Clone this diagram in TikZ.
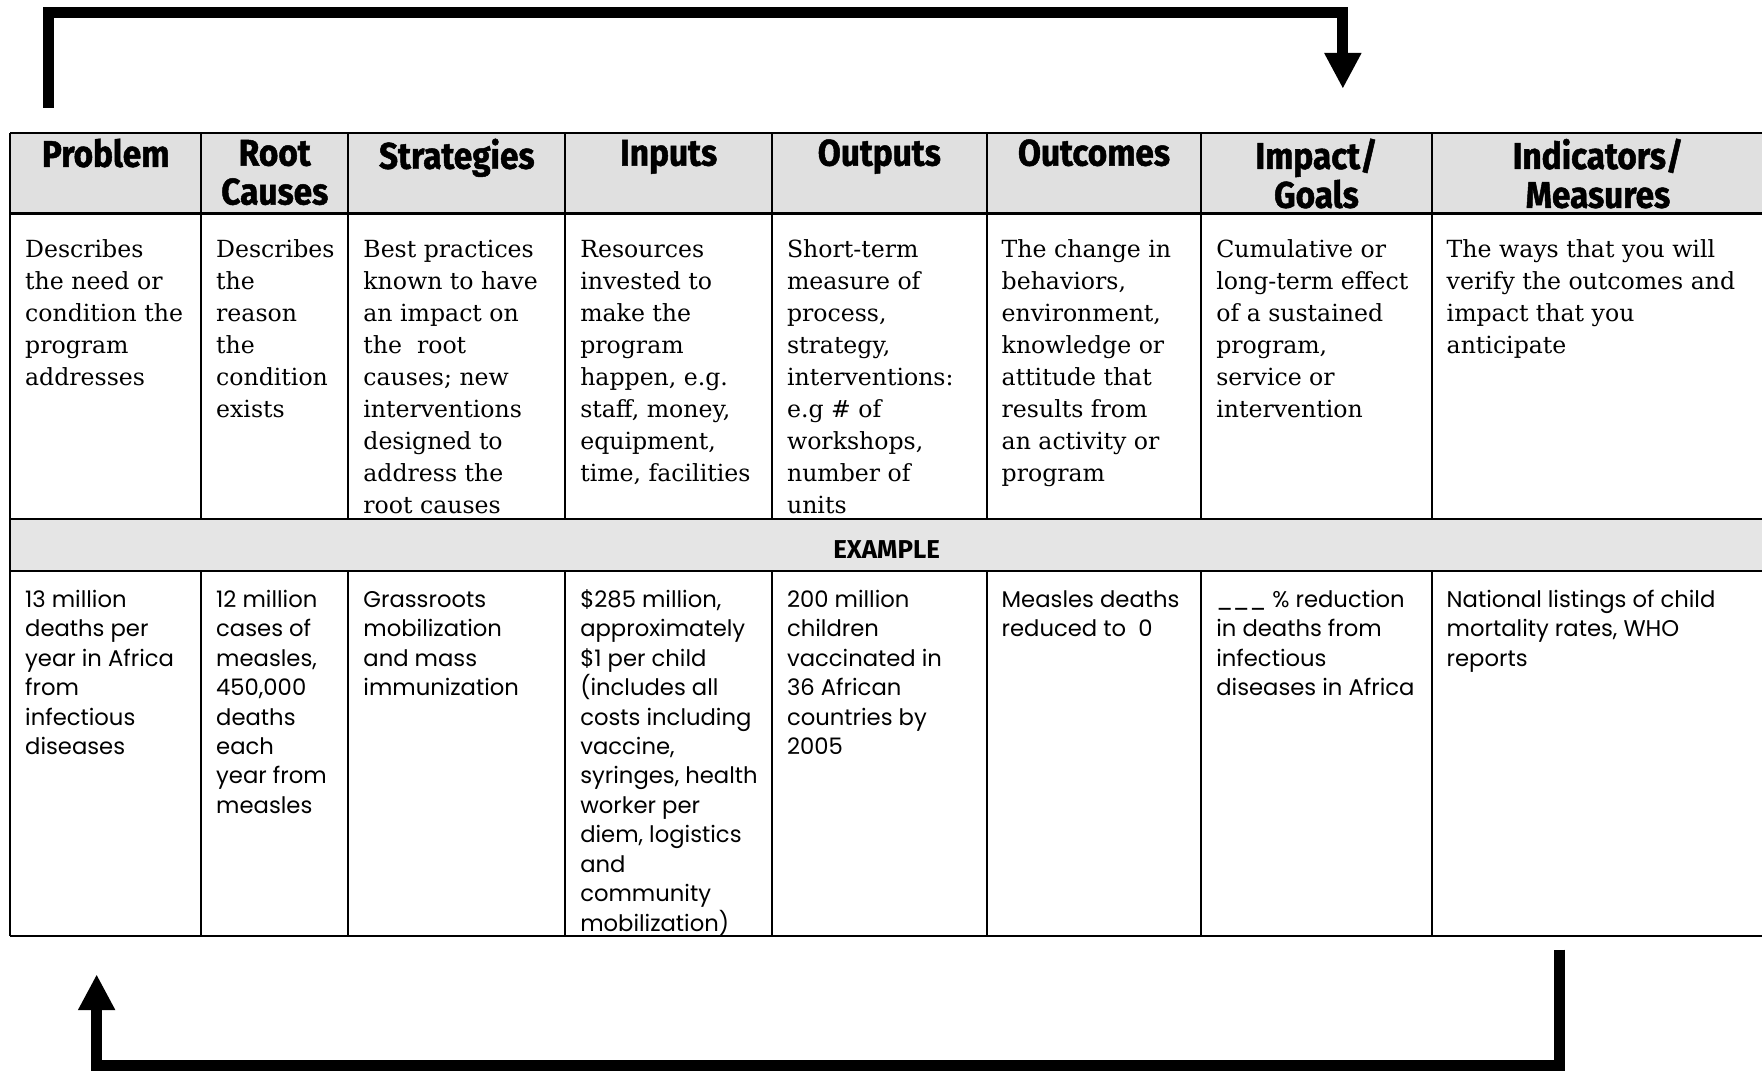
\documentclass[tikz,border=0pt]{standalone}
\usepackage{fontspec}
\setmainfont{DejaVu Serif}
\newfontfamily\exfont{Poppins}
\newfontfamily\hdfont{Fira Sans}[FakeStretch=0.9, BoldFeatures={FakeBold=1.3}]
\newfontfamily\lblfont{Fira Sans}
\usetikzlibrary{arrows.meta}
\definecolor{hdgray}{gray}{0.88}
\definecolor{rowgray}{gray}{0.9}
\newcommand\hstr{\rule{0pt}{12pt}}
\newcommand\dstr{\rule{0pt}{9pt}}
\begin{document}
\begin{tikzpicture}[x=0.5pt,y=-0.5pt,
  hdr/.style={anchor=north, inner sep=0pt, align=center, font=\hdfont\bfseries\fontsize{16.5}{17.3}\selectfont},
  desc/.style={anchor=north west, inner sep=0pt, align=left, font=\fontsize{10.5}{14.2}\selectfont},
  exm/.style={anchor=north west, inner sep=0pt, align=left, font=\exfont\fontsize{10.1}{13.1}\selectfont},
  gridline/.style={line width=0.9pt},
  bigarrow/.style={line width=5pt, line join=miter, -{Triangle[length=16pt,width=15.5pt]}}]
\useasboundingbox (0,0) rectangle (1568,953);
% fills
\fill[hdgray] (9,118) rectangle (1568,190);
\fill[rowgray] (9,462) rectangle (1568,508);
% grid
\foreach \yy in {118,190,462,508,833}
  \draw[gridline] (9,\yy) -- (1570,\yy);
\draw[gridline] (9,118) -- (9,833);
\foreach \xx in {179,310,503,687,878,1069,1274} {
  \draw[gridline] (\xx,118) -- (\xx,462);
  \draw[gridline] (\xx,508) -- (\xx,833);
}
% headers
\node[hdr] (h1) at (94,123)    {\hstr Problem};
\node[hdr] (h2) at (244.5,123) {\hstr Root\\Causes};
\node[hdr] (h3) at (406.5,123) {\hstr Strategies};
\node[hdr] (h4) at (595,123)   {\hstr Inputs};
\node[hdr] (h5) at (782.5,123) {\hstr Outputs};
\node[hdr] (h6) at (973.5,123) {\hstr Outcomes};
\node[hdr] (h7) at (1171.5,123) {\hstr Impact/\\Goals};
\node[hdr] (h8) at (1422,123)  {\hstr Indicators/\\Measures};
% descriptions
\node[desc] (d1) at (22,211)   {\dstr Describes\\the need or\\condition the\\program\\addresses};
\node[desc] (d2) at (192,211)  {\dstr Describes\\the\\reason\\the\\condition\\exists};
\node[desc] (d3) at (323,211)  {\dstr Best practices\\known to have\\an impact on\\the~~root\\causes; new\\interventions\\designed to\\address the\\root causes};
\node[desc] (d4) at (516,211)  {\dstr Resources\\invested to\\make the\\program\\happen, e.g.\\staff, money,\\equipment,\\time, facilities};
\node[desc] (d5) at (700,211)  {\dstr Short-term\\measure of\\process,\\strategy,\\interventions:\\e.g \# of\\workshops,\\number of\\units};
\node[desc] (d6) at (891,211)  {\dstr The change in\\behaviors,\\environment,\\knowledge or\\attitude that\\results from\\an activity or\\program};
\node[desc] (d7) at (1082,211) {\dstr Cumulative or\\long-term effect\\of a sustained\\program,\\service or\\intervention};
\node[desc] (d8) at (1287,211) {\dstr The ways that you will\\verify the outcomes and\\impact that you\\anticipate};
% example label
\node[anchor=base, inner sep=0pt, font=\lblfont\bfseries\fontsize{11.5}{13}\selectfont] (ex) at (789,497) {EXAMPLE};
% example row
\node[exm] (e1) at (22,522)   {\dstr 13 million\\deaths per\\year in Africa\\from\\infectious\\diseases};
\node[exm] (e2) at (192,522)  {\dstr 12 million\\cases of\\measles,\\450,000\\deaths\\each\\year from\\measles};
\node[exm] (e3) at (323,522)  {\dstr Grassroots\\mobilization\\and mass\\immunization};
\node[exm] (e4) at (516,522)  {\dstr \$285 million,\\approximately\\\$1 per child\\(includes all\\costs including\\vaccine,\\syringes, health\\worker per\\diem, logistics\\and\\community\\mobilization)};
\node[exm] (e5) at (700,522)  {\dstr 200 million\\children\\vaccinated in\\36 African\\countries by\\2005};
\node[exm] (e6) at (891,522)  {\dstr Measles deaths\\reduced to~~0};
\node[exm] (e7) at (1082,522) {\dstr \_\_\_ \% reduction\\in deaths from\\infectious\\diseases in Africa};
\node[exm] (e8) at (1287,522) {\dstr National listings of child\\mortality rates, WHO\\reports};
% feedback arrows
\coordinate (ts) at (43,96);
\coordinate (tc) at (1195,11);
\coordinate (te) at (1195,79);
\draw[bigarrow] (ts) |- (tc) -- (te);
\coordinate (bs) at (1388,845);
\coordinate (bc) at (86,948);
\coordinate (be) at (86,867);
\draw[bigarrow] (bs) |- (bc) -- (be);
\end{tikzpicture}
\end{document}
